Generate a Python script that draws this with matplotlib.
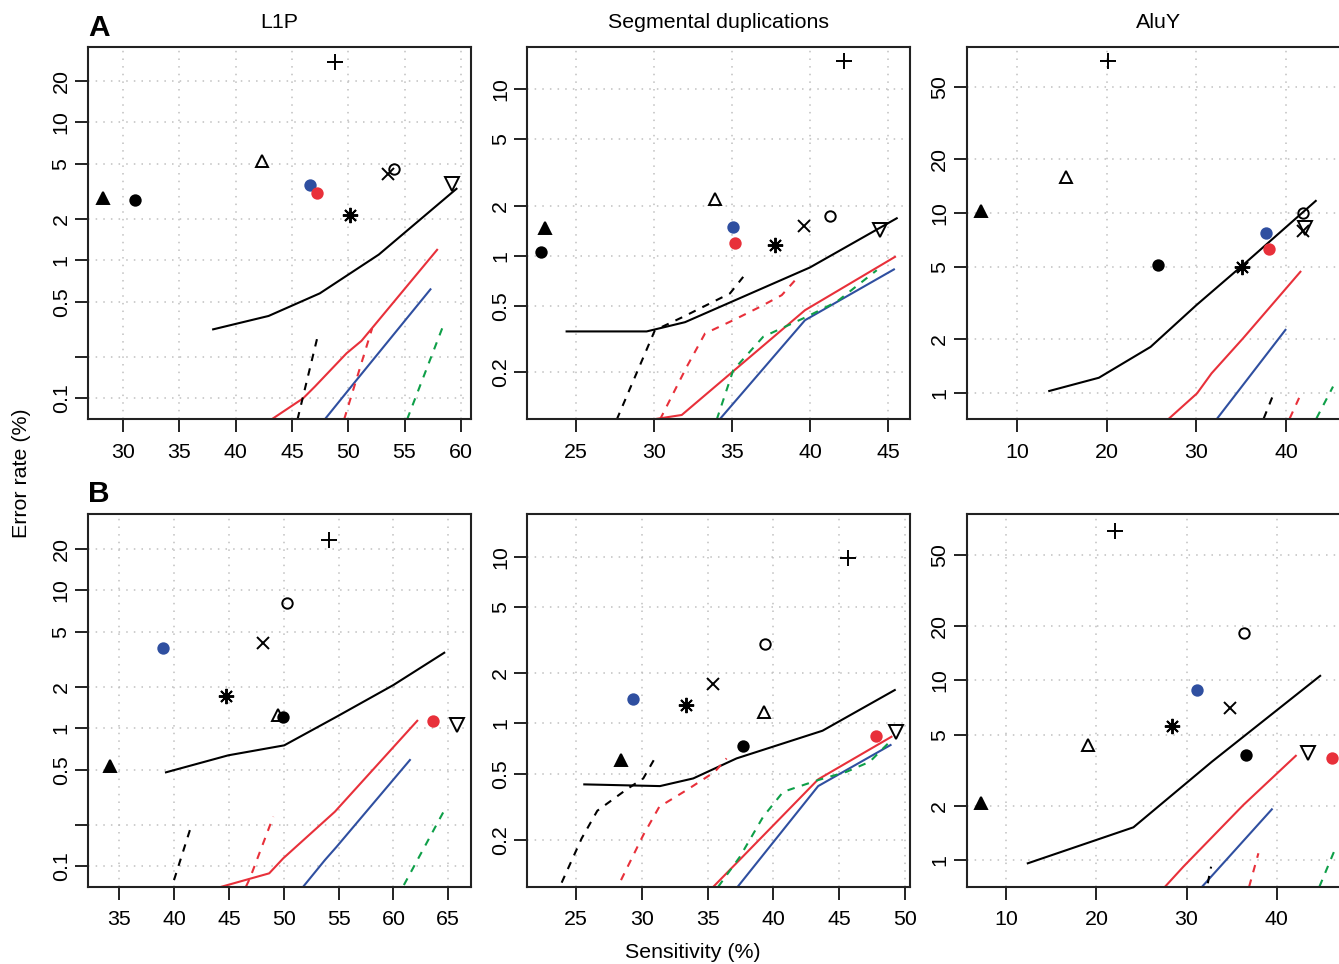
import numpy as np
import matplotlib
matplotlib.use('Agg')
import matplotlib.pyplot as plt

plt.rcParams['font.family'] = ['Liberation Sans', 'DejaVu Sans']

RED = '#e8303a'
BLUE = '#2f4fa0'
GREEN = '#0e9f48'

# point order in every panel:
# filled tri, black dot, open tri, blue dot, red dot, asterisk, cross, open circle, plus, down tri
pt_markers = ['^', 'o', '^', 'o', 'o', (8, 2, 0), 'x', 'o', '+', 'v']
pt_face = ['k', 'k', 'none', BLUE, RED, 'k', 'k', 'none', 'k', 'none']
pt_edge = ['k', 'k', 'k', BLUE, RED, 'k', 'k', 'k', 'k', 'k']
pt_size = [9, 7.5, 9, 7.5, 7.5, 11, 9, 7.5, 11, 9.5]

# panel A (row 1)
a_l1p_x = [28.2, 31.06, 42.33, 46.65, 47.24, 50.14, 53.49, 54.07, 48.84, 59.17]
a_l1p_y = [2.84, 2.72, 5.27, 3.53, 3.07, 2.13, 4.22, 4.57, 27.7, 3.57]
a_seg_x = [23.03, 22.76, 33.91, 35.08, 35.21, 37.78, 39.6, 41.28, 42.2, 44.49]
a_seg_y = [1.47, 1.05, 2.18, 1.48, 1.20, 1.16, 1.51, 1.74, 14.7, 1.43]
a_alu_x = [5.92, 25.72, 15.43, 37.81, 38.04, 35.06, 41.9, 41.9, 20.11, 42.16]
a_alu_y = [10.3, 5.16, 15.9, 7.77, 6.33, 5.01, 7.97, 10.0, 69.7, 8.31]

# panel B (row 2)
b_l1p_x = [34.15, 49.95, 49.49, 38.96, 63.6, 44.7, 48.1, 50.31, 54.14, 65.76]
b_l1p_y = [0.534, 1.20, 1.24, 3.79, 1.13, 1.71, 4.16, 8.11, 23.1, 1.05]
b_seg_x = [28.42, 37.7, 39.25, 29.35, 47.83, 33.35, 35.43, 39.33, 45.63, 49.3]
b_seg_y = [0.603, 0.729, 1.175, 1.40, 0.84, 1.29, 1.72, 2.98, 9.82, 0.89]
b_alu_x = [7.16, 36.6, 19.03, 31.2, 46.11, 28.42, 34.83, 36.41, 22.06, 43.45]
b_alu_y = [2.07, 3.85, 4.37, 8.84, 3.72, 5.58, 7.05, 18.4, 67.4, 3.96]

# curves: (x, y) per curve, keys = colour + style
a_l1p_curves = {
    'k-': ([38.01, 42.93, 47.48, 52.72, 59.61], [0.315, 0.394, 0.575, 1.10, 3.30]),
    'r-': ([43.2, 46.0, 47.04, 49.85, 51.18, 57.89], [0.07, 0.0995, 0.121, 0.211, 0.26, 1.19]),
    'b-': ([47.92, 50.44, 57.3], [0.07, 0.126, 0.615]),
    'k--': ([45.5, 47.28], [0.07, 0.279]),
    'r--': ([49.64, 52.12], [0.07, 0.32]),
    'g--': ([55.23, 58.57], [0.07, 0.358]),
}
a_seg_curves = {
    'k-': ([24.4, 29.53, 31.99, 40.0, 45.56], [0.352, 0.352, 0.40, 0.852, 1.68]),
    'r-': ([29.53, 31.78, 39.68, 45.45], [0.103, 0.111, 0.472, 0.986]),
    'b-': ([34.19, 39.68, 45.38], [0.104, 0.411, 0.829]),
    'k--': ([27.61, 30.06, 31.88, 34.87, 35.72], [0.104, 0.358, 0.431, 0.595, 0.748]),
    'r--': ([30.38, 32.1, 33.27, 35.08, 36.79, 38.19, 39.15],
            [0.104, 0.216, 0.342, 0.411, 0.494, 0.581, 0.732]),
    'g--': ([34.02, 35.08, 37.0, 39.79, 41.71, 44.28], [0.104, 0.206, 0.327, 0.431, 0.53, 0.82]),
}
a_alu_curves = {
    'k-': ([13.57, 19.11, 24.88, 30.0, 35.2, 43.31], [1.03, 1.22, 1.81, 3.09, 5.16, 11.7]),
    'r-': ([26.84, 30.07, 31.68, 35.2, 41.6], [0.717, 1.0, 1.29, 2.02, 4.73]),
    'b-': ([32.24, 39.93], [0.717, 2.25]),
    'k--': ([37.51, 38.48], [0.726, 0.957]),
    'r--': ([40.41, 41.6], [0.726, 0.978]),
    'g--': ([43.39, 45.24], [0.726, 1.09]),
}
b_l1p_curves = {
    'k-': ([39.26, 44.94, 50.04, 54.82, 59.98, 64.63], [0.478, 0.635, 0.75, 1.21, 2.05, 3.52]),
    'r-': ([44.33, 48.67, 49.95, 54.66, 62.17], [0.0708, 0.0885, 0.1137, 0.2477, 1.13]),
    'b-': ([51.77, 53.75, 54.82, 61.5], [0.0708, 0.1105, 0.138, 0.587]),
    'k--': ([39.99, 41.54], [0.079, 0.193]),
    'r--': ([46.55, 46.91, 49.04], [0.0708, 0.0814, 0.228]),
    'g--': ([60.95, 64.69], [0.0728, 0.258]),
}
b_seg_curves = {
    'k-': ([25.63, 31.38, 33.91, 37.2, 43.73, 49.22], [0.431, 0.421, 0.468, 0.617, 0.904, 1.585]),
    'r-': ([35.43, 43.4, 48.97], [0.1048, 0.462, 0.832]),
    'b-': ([37.28, 43.4, 48.9], [0.1048, 0.421, 0.742]),
    'k--': ([23.91, 25.43, 26.62, 28.85, 30.11, 31.13], [0.111, 0.2045, 0.2996, 0.4025, 0.468, 0.646]),
    'r--': ([28.42, 30.11, 31.33, 33.41, 35.55, 36.44], [0.115, 0.214, 0.3165, 0.3985, 0.513, 0.617]),
    'g--': ([35.8, 37.45, 39.22, 40.74, 43.4, 45.56, 47.32, 48.97],
            [0.1048, 0.1586, 0.2757, 0.389, 0.4575, 0.513, 0.589, 0.795]),
}
b_alu_curves = {
    'k-': ([12.38, 24.1, 32.8, 44.82], [0.962, 1.525, 3.53, 10.6]),
    'r-': ([27.61, 29.64, 36.3, 42.12], [0.713, 0.921, 2.03, 3.81]),
    'b-': ([31.72, 39.46], [0.713, 1.92]),
    'k--': ([32.35, 32.72], [0.745, 0.921]),
    'r--': ([36.94, 37.97], [0.713, 1.094]),
    'g--': ([44.74, 46.59], [0.713, 1.19]),
}

titles = ['L1P', 'Segmental duplications', 'AluY']
xlims = [[(26.9, 60.9), (21.88, 46.43), (4.36, 47.1)],
         [(32.15, 67.07), (21.3, 50.4), (5.6, 48.1)]]
ylims = [[(0.0704, 35.3), (0.105, 17.9), (0.72, 83.7)],
         [(0.0708, 35.7), (0.105, 18.0), (0.713, 84.2)]]
xticks = [[range(30, 61, 5), range(25, 46, 5), range(10, 41, 10)],
          [range(35, 66, 5), range(25, 51, 5), range(10, 41, 10)]]
yticks = [[0.1, 0.2, 0.5, 1, 2, 5, 10, 20], [0.2, 0.5, 1, 2, 5, 10], [1, 2, 5, 10, 20, 50]]
ylabels = [['0.1', '', '0.5', '1', '2', '5', '10', '20'],
           ['0.2', '0.5', '1', '2', '5', '10'],
           ['1', '2', '5', '10', '20', '50']]

points = [[(a_l1p_x, a_l1p_y), (a_seg_x, a_seg_y), (a_alu_x, a_alu_y)],
          [(b_l1p_x, b_l1p_y), (b_seg_x, b_seg_y), (b_alu_x, b_alu_y)]]
curves = [[a_l1p_curves, a_seg_curves, a_alu_curves],
          [b_l1p_curves, b_seg_curves, b_alu_curves]]
colmap = {'k': 'k', 'r': RED, 'b': BLUE, 'g': GREEN}

W, H = 1339, 964
fig = plt.figure(figsize=(W / 100, H / 100), dpi=100)
lefts = [88, 527.3, 966.7]
rows = [(47, 419), (514, 886.7)]
FS = 15.4

for r in range(2):
    top, bot = rows[r]
    for c in range(3):
        ax = fig.add_axes([lefts[c] / W, 1 - bot / H, 383 / W, (bot - top) / H])
        ax.set_yscale('log')
        for key, (cx, cy) in curves[r][c].items():
            ls = '--' if key.endswith('--') else '-'
            ln, = ax.plot(cx, cy, color=colmap[key[0]], lw=1.5, ls=ls)
            if ls == '--':
                ln.set_dashes((3.6, 3.6))
        px, py = points[r][c]
        for i in range(len(px)):
            ax.plot(px[i], py[i], marker=pt_markers[i], ms=pt_size[i], mfc=pt_face[i],
                    mec=pt_edge[i], mew=1.4, ls='none')
        ax.set_xlim(*xlims[r][c])
        ax.set_ylim(*ylims[r][c])
        ax.set_xticks(list(xticks[r][c]))
        ax.set_yticks(yticks[c])
        ax.set_yticklabels(ylabels[c], rotation=90, va='center')
        ax.minorticks_off()
        ax.grid(True, color='#c0c0c0', linestyle=(0, (1, 4)), lw=1.1)
        ax.tick_params(axis='both', length=9.5, width=1.4, labelsize=FS, color='#222222')
        ax.tick_params(axis='x', pad=7.5)
        ax.tick_params(axis='y', pad=3)
        for s in ax.spines.values():
            s.set_linewidth(1.5)
            s.set_color('#222222')
        if r == 0:
            fig.text((lefts[c] + 191.5) / W, 1 - 22 / H, titles[c], fontsize=FS,
                     ha='center', va='center')

fig.text(99 / W, 1 - 28 / H, 'A', fontsize=21.5, fontweight='bold', ha='center', va='center')
fig.text(99 / W, 1 - 494 / H, 'B', fontsize=21.5, fontweight='bold', ha='center', va='center')
fig.text(22 / W, 1 - 473 / H, 'Error rate (%)', fontsize=FS, rotation=90, ha='center', va='center')
fig.text(693 / W, 1 - 953 / H, 'Sensitivity (%)', fontsize=FS, ha='center', va='center')

fig.savefig('out.png', dpi=100)
